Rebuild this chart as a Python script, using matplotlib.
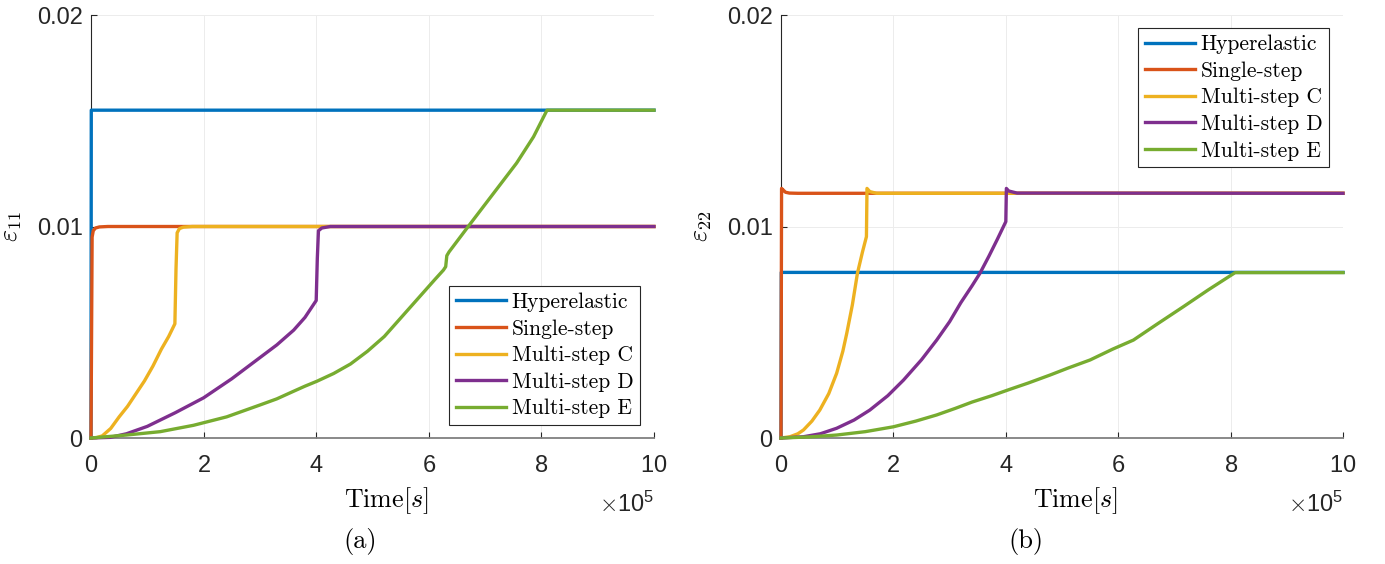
import numpy as np
import matplotlib.pyplot as plt
from matplotlib.ticker import ScalarFormatter

plt.rcParams['mathtext.fontset'] = 'cm'
plt.rcParams['font.family'] = 'Liberation Sans'
plt.rcParams['axes.formatter.use_mathtext'] = True

# series names and MATLAB default colours
labels = ["Hyperelastic", "Single-step", "Multi-step C", "Multi-step D", "Multi-step E"]
colors = ["#0072BD", "#D95319", "#EDB120", "#7E2F8E", "#77AC30"]

# ---- (a) eps_11, time in units of 1e5 s ----
a_hyper_t = [0, 0.005, 10]
a_hyper_y = [0, 0.0155, 0.0155]
a_single_t = [0, 0.02, 0.04, 0.08, 0.15, 0.3, 10]
a_single_y = [0, 0.0095, 0.0098, 0.00993, 0.00998, 0.01, 0.01]
a_C_t = [0, 0.1, 0.2, 0.35, 0.5, 0.65, 0.8, 0.95, 1.1, 1.25, 1.38, 1.49,
         1.51, 1.53, 1.57, 1.64, 1.8, 10]
a_C_y = [0, 0.00002, 0.0001, 0.00045, 0.001, 0.0015, 0.0021, 0.0027, 0.0034, 0.0042, 0.0048, 0.0054,
         0.008, 0.0097, 0.0099, 0.00997, 0.01, 0.01]
a_D_t = [0, 0.34, 0.63, 1.0, 1.5, 2.0, 2.5, 3.0, 3.3, 3.6, 3.8, 4.0,
         4.02, 4.04, 4.1, 4.25, 10]
a_D_y = [0, 0.00003, 0.0002, 0.00055, 0.0012, 0.0019, 0.0028, 0.0038, 0.0044, 0.0051, 0.0057, 0.0065,
         0.0085, 0.0098, 0.00993, 0.01, 0.01]
a_E_t = [0, 0.63, 1.23, 1.82, 2.41, 3.0, 3.3, 3.59, 3.8, 4.01, 4.31, 4.61, 4.91, 5.21, 5.51, 5.81, 6.11, 6.26,
         6.30, 6.32, 6.36, 6.70, 7.15, 7.56, 7.86, 8.1, 10]
a_E_y = [0, 0.00014, 0.0003, 0.0006, 0.001, 0.00156, 0.00185, 0.0022, 0.00245, 0.00268, 0.00305, 0.0035, 0.0041,
         0.0048, 0.0057, 0.0066, 0.0075, 0.00794,
         0.0081, 0.00862, 0.0088, 0.01, 0.01157, 0.013, 0.01424, 0.0155, 0.0155]

# ---- (b) eps_22 ----
b_hyper_t = [0, 0.005, 10]
b_hyper_y = [0, 0.00783, 0.00783]
b_single_t = [0, 0.01, 0.03, 0.08, 0.15, 0.3, 10]
b_single_y = [0, 0.0118, 0.01175, 0.01162, 0.01158, 0.01157, 0.01157]
b_C_t = [0, 0.16, 0.3, 0.4, 0.55, 0.69, 0.85, 0.99, 1.1, 1.17, 1.27, 1.36, 1.45, 1.52,
         1.53, 1.58, 1.7, 10]
b_C_y = [0, 0.00006, 0.0002, 0.00038, 0.0008, 0.00132, 0.0021, 0.00306, 0.0041, 0.00495, 0.0063, 0.00779, 0.0088, 0.00952,
         0.0118, 0.01165, 0.01157, 0.01157]
b_D_t = [0, 0.4, 0.7, 0.99, 1.3, 1.58, 1.9, 2.18, 2.5, 2.77, 3.0, 3.2, 3.4, 3.54, 3.7, 3.85, 4.0,
         4.01, 4.05, 4.2, 10]
b_D_y = [0, 0.00006, 0.0002, 0.00046, 0.00085, 0.00132, 0.002, 0.00274, 0.0037, 0.00463, 0.0055, 0.0064, 0.0072,
         0.00779, 0.0086, 0.0094, 0.01023,
         0.0118, 0.01168, 0.01158, 0.01157]
b_E_t = [0, 0.5, 0.99, 1.5, 2.0, 2.4, 2.77, 3.1, 3.4, 3.75, 4.07, 4.4, 4.79, 5.1, 5.5, 5.9, 6.27, 6.7, 7.16,
         7.6, 8.08, 10]
b_E_y = [0, 0.00005, 0.00014, 0.0003, 0.00053, 0.0008, 0.00109, 0.0014, 0.0017, 0.002, 0.0023, 0.0026, 0.00298,
         0.0033, 0.00369, 0.0042, 0.00463, 0.0054, 0.00621, 0.007, 0.00782, 0.00782]

panels = [
    ([(a_hyper_t, a_hyper_y), (a_single_t, a_single_y), (a_C_t, a_C_y), (a_D_t, a_D_y), (a_E_t, a_E_y)],
     r'$\varepsilon_{11}$', '(a)'),
    ([(b_hyper_t, b_hyper_y), (b_single_t, b_single_y), (b_C_t, b_C_y), (b_D_t, b_D_y), (b_E_t, b_E_y)],
     r'$\varepsilon_{22}$', '(b)'),
]

fig = plt.figure(figsize=(13.85, 5.64), dpi=100)
ax_a = fig.add_axes([0.0657, 0.2234, 0.4065, 0.75])
ax_b = fig.add_axes([0.5639, 0.2234, 0.4058, 0.75])

for ax, (series, ylab, tag) in zip([ax_a, ax_b], panels):
    for (t, y), lab, col in zip(series, labels, colors):
        ax.plot(np.array(t) * 1e5, y, color=col, lw=2.4, label=lab, zorder=3, clip_on=False)

    ax.set_xlim(0, 10e5)
    ax.set_ylim(0, 0.02)
    ax.set_xticks(np.arange(0, 11, 2) * 1e5)
    ax.set_yticks([0, 0.01, 0.02], ['0', '0.01', '0.02'])
    fmt = ScalarFormatter(useMathText=True)
    fmt.set_powerlimits((5, 5))
    ax.xaxis.set_major_formatter(fmt)
    # exponent drawn a bit lower, like MATLAB does
    ax.xaxis.get_offset_text().set_visible(False)
    ax.text(1.0, -0.128, r'$\times\mathdefault{10^{5}}$', transform=ax.transAxes,
            ha='right', va='top', fontsize=17, color='#262626')

    for s in ['top', 'right']:
        ax.spines[s].set_visible(False)
    ax.spines['left'].set_color('#262626')
    ax.spines['left'].set_linewidth(0.8)
    ax.spines['bottom'].set_color('#808080')
    ax.spines['bottom'].set_linewidth(1.3)

    ax.grid(True, color='#ececec', lw=0.7)
    ax.set_axisbelow(True)
    ax.tick_params(direction='in', length=4, width=0.8, color='#262626', labelsize=17, labelcolor='#262626')
    ax.tick_params(axis='x', pad=12)
    ax.tick_params(axis='y', pad=6)

    ax.set_xlabel(r'$\mathrm{Time}[s]$', fontsize=18.7)
    ax.xaxis.set_label_coords(0.524, -0.111)
    ax.set_ylabel(ylab, fontsize=18.7)
    ax.yaxis.set_label_coords(-0.119, 0.5)

    fig.text(0.26 if tag == '(a)' else 0.741, 0.04, tag, fontsize=19, family='cmr10',
             ha='center', va='center')

leg_kw = dict(prop={'family': 'cmr10', 'size': 15.5}, fancybox=False, framealpha=1,
              edgecolor='#262626', handlelength=2.35, handletextpad=0.25,
              labelspacing=0.33, borderpad=0.3, borderaxespad=0)
la = ax_a.legend(loc='lower right', bbox_to_anchor=(0.975, 0.031), **leg_kw)
lb = ax_b.legend(loc='upper right', bbox_to_anchor=(0.975, 0.969), **leg_kw)
for lg in (la, lb):
    lg.get_frame().set_linewidth(0.8)
    lg.set_zorder(5)

fig.savefig('out.png', dpi=100)
